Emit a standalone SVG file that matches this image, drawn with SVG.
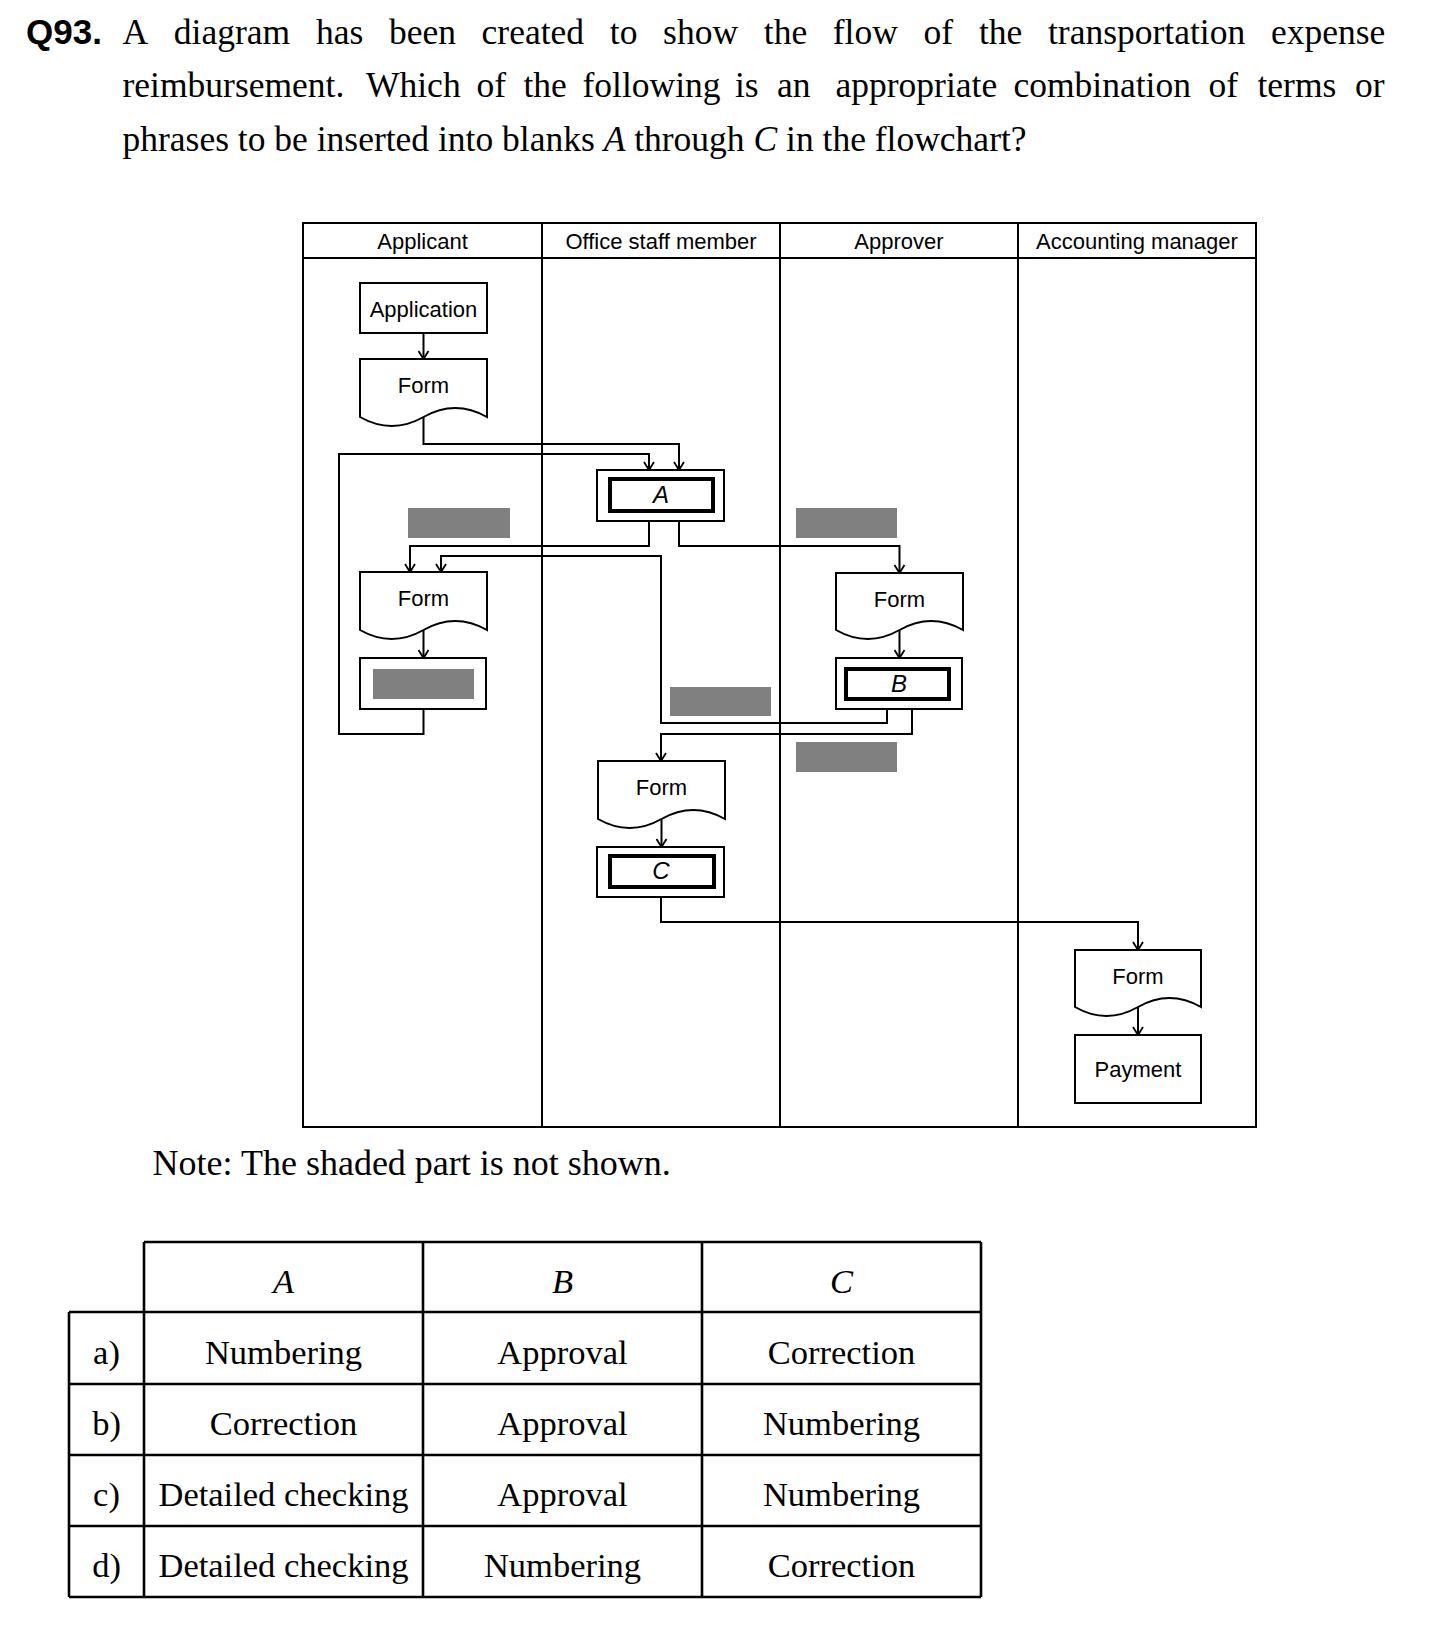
<svg xmlns="http://www.w3.org/2000/svg" width="1449" height="1628" viewBox="0 0 1449 1628">
<defs>
<marker id="arr" viewBox="0 0 12 12" refX="11" refY="6" markerWidth="12" markerHeight="12" markerUnits="userSpaceOnUse" orient="auto">
<path d="M3,1 L11,6 L3,11" fill="none" stroke="#000" stroke-width="1.8"/>
</marker>
<style>
.sans{font-family:"Liberation Sans",Arial,sans-serif;font-size:22px;fill:#000}
.serif{font-family:"Liberation Serif","Times New Roman",serif;font-size:35.5px;fill:#000}
.tb{font-family:"Liberation Serif","Times New Roman",serif;font-size:34.5px;fill:#000;text-anchor:middle}
.ln{fill:none;stroke:#000;stroke-width:2}
.tl{fill:none;stroke:#000;stroke-width:2.6}
.shape{fill:#fff;stroke:#000;stroke-width:2}
.thick{fill:#fff;stroke:#000;stroke-width:4}
.grey{fill:#808080}
.conn{fill:none;stroke:#000;stroke-width:2;marker-end:url(#arr)}
.mid{text-anchor:middle}
.it{font-style:italic;font-size:24px}
</style>
</defs>
<rect width="1449" height="1628" fill="#fff"/>

<g id="question">
<text x="26" y="43.5" font-family="Liberation Sans, Arial, sans-serif" font-weight="bold" font-size="35">Q93.</text>
<text class="serif" y="43.5"><tspan x="122.5">A</tspan><tspan x="173.8">diagram</tspan><tspan x="315.9">has</tspan><tspan x="388.9">been</tspan><tspan x="481.6">created</tspan><tspan x="609.8">to</tspan><tspan x="663.1">show</tspan><tspan x="763.8">the</tspan><tspan x="832.8">flow</tspan><tspan x="923.6">of</tspan><tspan x="978.9">the</tspan><tspan x="1048">transportation</tspan><tspan x="1270.9">expense</tspan></text>
<text class="serif" y="97"><tspan x="122.5">reimbursement.</tspan><tspan x="366">Which</tspan><tspan x="476.5">of</tspan><tspan x="523.5">the</tspan><tspan x="582.5">following</tspan><tspan x="735">is</tspan><tspan x="777">an</tspan><tspan x="835.5">appropriate</tspan><tspan x="1013.5">combination</tspan><tspan x="1208.5">of</tspan><tspan x="1257.5">terms</tspan><tspan x="1355">or</tspan></text>
<text class="serif" x="122.5" y="150.5">phrases to be inserted into blanks <tspan font-style="italic">A</tspan> through <tspan font-style="italic">C</tspan> in the flowchart?</text>
</g>

<g id="swimlanes">
<rect class="ln" x="303" y="223" width="953" height="904"/>
<line class="ln" x1="303" y1="258" x2="1256" y2="258"/>
<line class="ln" x1="542" y1="223" x2="542" y2="1127"/>
<line class="ln" x1="780" y1="223" x2="780" y2="1127"/>
<line class="ln" x1="1018" y1="223" x2="1018" y2="1127"/>
<text class="sans mid" x="422.5" y="249">Applicant</text>
<text class="sans mid" x="661" y="249">Office staff member</text>
<text class="sans mid" x="899" y="249">Approver</text>
<text class="sans mid" x="1137" y="249">Accounting manager</text>
</g>

<g id="connectors">
<path class="conn" d="M423.5,333 V359"/>
<path class="conn" d="M423.5,417 V444 H679 V470"/>
<path class="conn" d="M423.5,709 V734 H339 V454 H649 V470"/>
<path class="conn" d="M649,521 V546 H410 V572"/>
<path class="conn" d="M679,521 V546 H899.5 V573"/>
<path class="conn" d="M887,709 V723 H661 V556 H441 V572"/>
<path class="conn" d="M912,709 V734 H661 V761"/>
<path class="conn" d="M423.5,630 V658"/>
<path class="conn" d="M899.5,630 V658"/>
<path class="conn" d="M661.5,819 V847"/>
<path class="conn" d="M661,897 V922 H1138 V950"/>
<path class="conn" d="M1138,1007 V1035"/>
</g>

<g id="n-application">
<rect class="shape" x="360" y="283" width="127" height="50"/>
<text class="sans mid" x="423.5" y="317">Application</text>
</g>
<g id="n-form1">
<path class="shape" d="M360,359 H487 V417 Q455.25,399 423.5,417 T360,417 Z"/>
<text class="sans mid" x="423.5" y="393">Form</text>
</g>
<g id="n-A">
<rect class="shape" x="597" y="470" width="127" height="51"/>
<rect class="thick" x="610" y="479" width="103" height="32"/>
<text class="sans mid it" x="661" y="503">A</text>
</g>
<g id="n-shade1"><rect class="grey" x="408" y="508" width="102" height="30"/></g>
<g id="n-form2">
<path class="shape" d="M360,572 H487 V630 Q455.25,612 423.5,630 T360,630 Z"/>
<text class="sans mid" x="423.5" y="606">Form</text>
</g>
<g id="n-shadedbox">
<rect class="shape" x="360" y="658" width="126" height="51"/>
<rect class="grey" x="373" y="669" width="101" height="30"/>
</g>
<g id="n-shade2"><rect class="grey" x="670" y="687" width="101" height="29"/></g>
<g id="n-shade3"><rect class="grey" x="796" y="508" width="101" height="30"/></g>
<g id="n-form3">
<path class="shape" d="M836,573 H963 V630 Q931.25,612 899.5,630 T836,630 Z"/>
<text class="sans mid" x="899.5" y="607">Form</text>
</g>
<g id="n-B">
<rect class="shape" x="836" y="658" width="126" height="51"/>
<rect class="thick" x="846" y="669" width="103" height="30"/>
<text class="sans mid it" x="899" y="692">B</text>
</g>
<g id="n-shade4"><rect class="grey" x="796" y="742" width="101" height="30"/></g>
<g id="n-form4">
<path class="shape" d="M598,761 H725 V819 Q693.25,801 661.5,819 T598,819 Z"/>
<text class="sans mid" x="661.5" y="795">Form</text>
</g>
<g id="n-C">
<rect class="shape" x="597" y="847" width="127" height="50"/>
<rect class="thick" x="610" y="856" width="104" height="31"/>
<text class="sans mid it" x="661" y="879">C</text>
</g>
<g id="n-form5">
<path class="shape" d="M1075,950 H1201 V1007 Q1169.5,989 1138,1007 T1075,1007 Z"/>
<text class="sans mid" x="1138" y="984">Form</text>
</g>
<g id="n-payment">
<rect class="shape" x="1075" y="1035" width="126" height="68"/>
<text class="sans mid" x="1138" y="1077">Payment</text>
</g>

<g id="note">
<text x="152.6" y="1175" font-family="Liberation Serif, Times New Roman, serif" font-size="36">Note: The shaded part is not shown.</text>
</g>

<g id="answer-table">
<line class="tl" x1="144" y1="1242" x2="981" y2="1242"/>
<line class="tl" x1="69" y1="1312" x2="981" y2="1312"/>
<line class="tl" x1="69" y1="1384" x2="981" y2="1384"/>
<line class="tl" x1="69" y1="1455" x2="981" y2="1455"/>
<line class="tl" x1="69" y1="1526" x2="981" y2="1526"/>
<line class="tl" x1="69" y1="1597" x2="981" y2="1597"/>
<line class="tl" x1="69" y1="1312" x2="69" y2="1597"/>
<line class="tl" x1="144" y1="1242" x2="144" y2="1597"/>
<line class="tl" x1="423" y1="1242" x2="423" y2="1597"/>
<line class="tl" x1="702" y1="1242" x2="702" y2="1597"/>
<line class="tl" x1="981" y1="1242" x2="981" y2="1597"/>
<text class="tb" x="283.5" y="1293" font-style="italic">A</text>
<text class="tb" x="562.5" y="1293" font-style="italic">B</text>
<text class="tb" x="841.5" y="1293" font-style="italic">C</text>
<text class="tb" x="106.5" y="1364">a)</text>
<text class="tb" x="283.5" y="1364">Numbering</text>
<text class="tb" x="562.5" y="1364">Approval</text>
<text class="tb" x="841.5" y="1364">Correction</text>
<text class="tb" x="106.5" y="1435">b)</text>
<text class="tb" x="283.5" y="1435">Correction</text>
<text class="tb" x="562.5" y="1435">Approval</text>
<text class="tb" x="841.5" y="1435">Numbering</text>
<text class="tb" x="106.5" y="1506">c)</text>
<text class="tb" x="283.5" y="1506">Detailed checking</text>
<text class="tb" x="562.5" y="1506">Approval</text>
<text class="tb" x="841.5" y="1506">Numbering</text>
<text class="tb" x="106.5" y="1577">d)</text>
<text class="tb" x="283.5" y="1577">Detailed checking</text>
<text class="tb" x="562.5" y="1577">Numbering</text>
<text class="tb" x="841.5" y="1577">Correction</text>
</g>
</svg>
